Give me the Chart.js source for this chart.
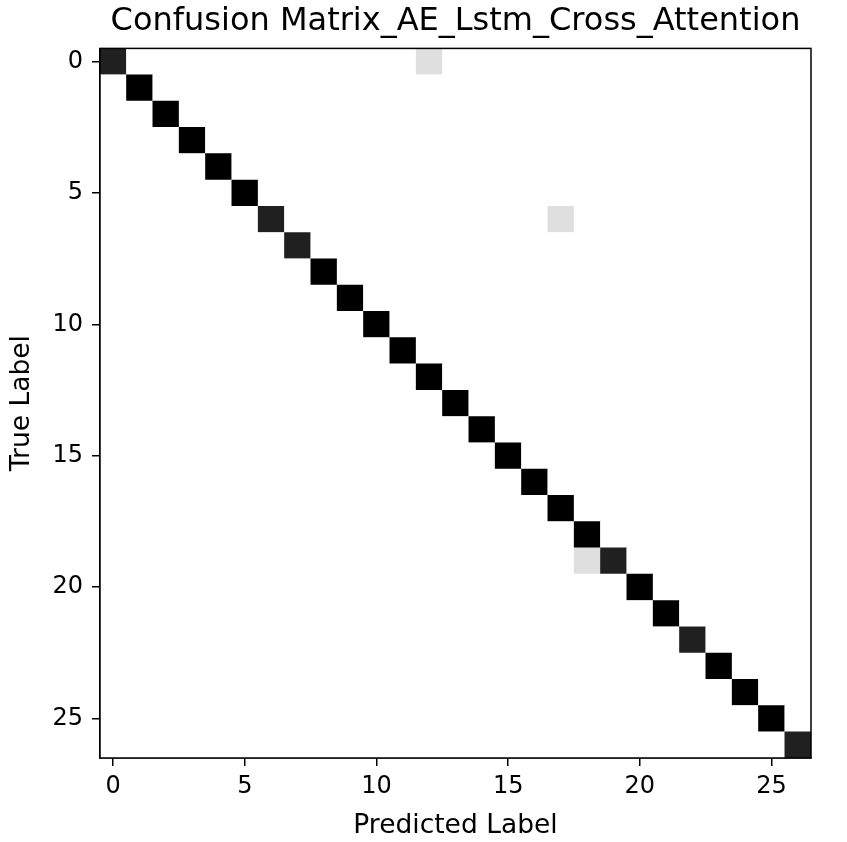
<!DOCTYPE html>
<html>
<head>
<meta charset="utf-8">
<script src="https://cdn.jsdelivr.net/npm/chart.js@4.4.0/dist/chart.umd.min.js"></script>
<style>
  html, body { margin: 0; padding: 0; background: #fff; }
  canvas { display: block; }
</style>
</head>
<body>
<canvas id="cm" width="847" height="842"></canvas>
<script>
// Class indices shown on both axes
const classLabels = [0, 1, 2, 3, 4, 5, 6, 7, 8, 9, 10, 11, 12, 13, 14, 15, 16, 17, 18, 19, 20, 21, 22, 23, 24, 25, 26];
// Correct predictions per class (matrix diagonal)
const correctCounts = [7, 8, 8, 8, 8, 8, 7, 7, 8, 8, 8, 8, 8, 8, 8, 8, 8, 8, 8, 7, 8, 8, 7, 8, 8, 8, 7];
// Off-diagonal entries: [true class, predicted class, count]
const misclassified = [
  [0, 12, 1],
  [6, 17, 1],
  [19, 18, 1]
];
const tickValues = [0, 5, 10, 15, 20, 25];
const chartTitle = 'Confusion Matrix_AE_Lstm_Cross_Attention';
const xAxisTitle = 'Predicted Label';
const yAxisTitle = 'True Label';

// Assemble the full matrix
const n = classLabels.length;
const matrix = classLabels.map((_, r) => classLabels.map((_, c) => (r === c ? correctCounts[r] : 0)));
misclassified.forEach(([r, c, v]) => { matrix[r][c] = v; });
const vmax = Math.max(...matrix.flat());

const cells = [];
for (let r = 0; r < n; r++) {
  for (let c = 0; c < n; c++) {
    cells.push({ x: classLabels[c], y: classLabels[r], v: matrix[r][c] });
  }
}

// Reversed grey ramp: 0 -> white, vmax -> black
function greyFor(v) {
  const g = Math.round(255 * (1 - v / vmax));
  return `rgb(${g},${g},${g})`;
}

function cellRadius(ctx) {
  const s = ctx.chart.scales.x;
  const w = Math.abs(s.getPixelForValue(1) - s.getPixelForValue(0));
  return (w + 0.3) / Math.SQRT2;
}

const FONT = 'DejaVu Sans';

// Draws the full axes frame over the cells
const framePlugin = {
  id: 'frame',
  afterDatasetsDraw(chart) {
    const { ctx, chartArea: a } = chart;
    ctx.save();
    ctx.strokeStyle = '#000';
    ctx.lineWidth = 1.5;
    ctx.strokeRect(a.left, a.top, a.right - a.left, a.bottom - a.top);
    ctx.restore();
  }
};

const axisCommon = {
  type: 'linear',
  min: -0.5,
  max: 26.5,
  afterBuildTicks: s => { s.ticks = tickValues.map(v => ({ value: v })); },
  ticks: {
    font: { family: FONT, size: 24 },
    color: '#000',
    maxRotation: 0,
    autoSkip: false
  },
  grid: {
    drawOnChartArea: false,
    drawTicks: true,
    tickLength: 8,
    tickWidth: 1.5,
    tickColor: '#000',
    color: '#000',
    lineWidth: 1.5
  },
  border: { display: true, color: '#000', width: 1.5 }
};

new Chart(document.getElementById('cm'), {
  type: 'scatter',
  data: {
    datasets: [{
      data: cells,
      pointStyle: 'rect',
      pointRadius: cellRadius,
      pointHoverRadius: cellRadius,
      pointBorderWidth: 0,
      pointHoverBorderWidth: 0,
      pointBackgroundColor: ctx => greyFor(ctx.raw ? ctx.raw.v : 0),
      pointHoverBackgroundColor: ctx => greyFor(ctx.raw ? ctx.raw.v : 0),
      pointBorderColor: 'rgba(0,0,0,0)'
    }]
  },
  options: {
    responsive: false,
    devicePixelRatio: 1,
    animation: false,
    events: [],
    layout: { padding: { left: 0, right: 36, top: 0, bottom: 0 } },
    plugins: {
      legend: { display: false },
      tooltip: { enabled: false },
      title: {
        display: true,
        text: chartTitle,
        fullSize: false,
        color: '#000',
        font: { family: FONT, size: 32, weight: 'normal' },
        padding: { top: 2, bottom: 8 }
      }
    },
    scales: {
      x: {
        ...axisCommon,
        position: 'bottom',
        ticks: { ...axisCommon.ticks, padding: 6 },
        title: {
          display: true,
          text: xAxisTitle,
          color: '#000',
          font: { family: FONT, size: 26.5 },
          padding: { top: 2, bottom: 0 }
        },
        afterFit: s => { s.height = 84; }
      },
      y: {
        ...axisCommon,
        position: 'left',
        reverse: true,
        ticks: { ...axisCommon.ticks, padding: 9 },
        title: {
          display: true,
          text: yAxisTitle,
          color: '#000',
          font: { family: FONT, size: 26.5 },
          padding: { top: 6, bottom: 0 }
        },
        afterFit: s => { s.width = 100; }
      }
    }
  },
  plugins: [framePlugin]
});
</script>
</body>
</html>
